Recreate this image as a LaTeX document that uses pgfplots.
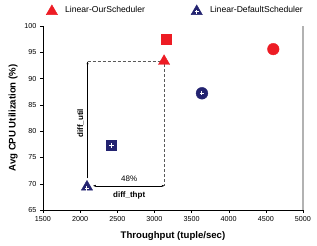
\documentclass[border=0pt]{standalone}
\usepackage{pgfplots}
\pgfplotsset{compat=1.18}
\usetikzlibrary{arrows.meta}
\usepackage{fontspec}
\setmainfont{Liberation Sans}
\definecolor{myred}{RGB}{237,28,36}
\definecolor{mynavy}{RGB}{35,35,112}
\begin{document}
\begin{tikzpicture}
\begin{axis}[
  scale only axis, width=260pt, height=184pt,
  xmin=1500, xmax=5000, ymin=65, ymax=100,
  xtick={1500,2000,...,5000}, ytick={65,70,...,100},
  axis x line*=bottom, axis y line*=left,
  tick align=outside, tick style={black, thin}, major tick length=3pt,
  ticklabel style={font=\fontsize{7.2}{8}\selectfont},
  /pgf/number format/assume math mode=true,
  xticklabel style={/pgf/number format/1000 sep={}},
  scaled x ticks=false,
  xlabel={\textbf{Throughput (tuple/sec)}},
  ylabel={\textbf{Avg CPU Utilization (\%)}},
  label style={font=\fontsize{9.6}{11}\selectfont},
  xlabel style={yshift=-3pt},
  ylabel style={yshift=0pt},
  legend columns=2,
  legend style={draw=none, fill=none, at={(axis description cs:0.0,1.085)}, anchor=west,
    font=\fontsize{8.6}{9}\selectfont, /tikz/every even column/.append style={column sep=44pt}},
  legend cell align=left,
  clip=false,
]
\draw[gray!60, line width=1.2pt] (rel axis cs:1,0) -- (rel axis cs:1,1);
% annotations
\draw[densely dashed, gray!70!black, thin] (axis cs:2100,93.3) -- (axis cs:3110,93.3);
\draw[densely dashed, gray!70!black, thin] (axis cs:3135,92.7) -- (axis cs:3135,69.6);
\draw[-{Latex[length=3pt,width=2pt]}, thin] (axis cs:2100,71.0) -- (axis cs:2100,93.3);
\draw[{Latex[length=3pt,width=2pt]}-{Latex[length=3pt,width=2pt]}, thin] (axis cs:2170,69.6) -- (axis cs:3140,69.6);
\node[rotate=90, font=\fontsize{8}{9}\selectfont\bfseries, above] at (axis cs:2100,81.5) {diff\_util};
\node[font=\fontsize{8}{9}\selectfont] at (axis cs:2660,70.9) {48\%};
\node[font=\fontsize{8}{9}\selectfont\bfseries] at (axis cs:2660,67.8) {diff\_thpt};
% data
\addplot[only marks, mark=triangle*, mark size=6.5pt, color=myred,
  legend image code/.code={\path[draw=none,fill=none] (0,0) rectangle (17pt,0.1pt); \draw[myred, mark=triangle*, mark size=6.5pt] plot coordinates {(0.2cm,-1pt)};}]
  coordinates {(3130,93.3)};
\addlegendentry{Linear-OurScheduler}
\addplot[only marks, mark=triangle*, mark size=6.5pt, color=mynavy,
  legend image code/.code={\path[draw=none,fill=none] (0,0) rectangle (17pt,0.1pt); \draw[mynavy, mark=triangle*, mark size=6.5pt] plot coordinates {(0.2cm,-1pt)};
    \draw[white, line width=1pt] (0.2cm,-3.4pt)--(0.2cm,0.6pt) (0.2cm-2pt,-1.4pt)--(0.2cm+2pt,-1.4pt);}]
  coordinates {(2092,69.4)};
\addlegendentry{Linear-DefaultScheduler}
\addplot[only marks, mark=square*, mark size=5.2pt, color=myred, forget plot] coordinates {(3160,97.5)};
\addplot[only marks, mark=*, mark size=5.8pt, color=myred, forget plot] coordinates {(4600,95.6)};
\addplot[only marks, mark=square*, mark size=5.2pt, color=mynavy, forget plot] coordinates {(2420,77.3)};
\addplot[only marks, mark=*, mark size=5.9pt, color=mynavy, forget plot] coordinates {(3640,87.2)};
% white plus signs inside navy markers
\addplot[only marks, mark=+, mark size=2.2pt, color=white, mark options={line width=1pt}, forget plot] coordinates {(2092,69.1) (2420,77.3) (3640,87.2)};
\end{axis}
\pgfresetboundingbox
\path[use as bounding box] (-43pt,-36pt) rectangle (274pt,210pt);
\end{tikzpicture}
\end{document}
